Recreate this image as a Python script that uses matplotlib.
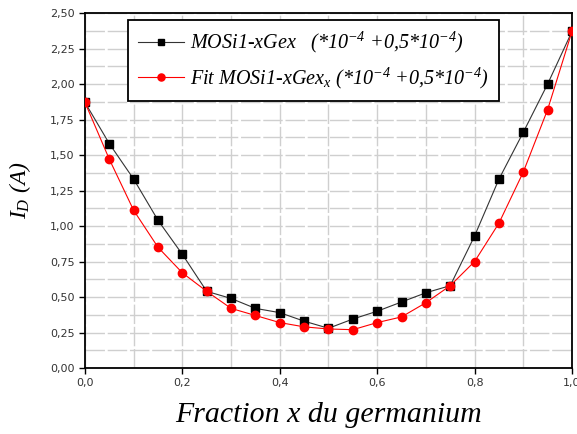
import matplotlib
matplotlib.use("Agg")
import matplotlib.pyplot as plt
import numpy as np
from matplotlib.ticker import MultipleLocator, FuncFormatter

x = [0.0, 0.05, 0.1, 0.15, 0.2, 0.25, 0.3, 0.35, 0.4, 0.45, 0.5,
     0.55, 0.6, 0.65, 0.7, 0.75, 0.8, 0.85, 0.9, 0.95, 1.0]
id_meas = [1.87, 1.58, 1.33, 1.04, 0.80, 0.54, 0.49, 0.42, 0.39, 0.33, 0.28,
           0.345, 0.40, 0.465, 0.53, 0.58, 0.93, 1.33, 1.66, 2.00, 2.37]
id_fit = [1.87, 1.47, 1.11, 0.85, 0.67, 0.54, 0.42, 0.37, 0.32, 0.29, 0.275,
          0.27, 0.32, 0.36, 0.46, 0.58, 0.75, 1.02, 1.38, 1.82, 2.37]

label_meas = r"MOSi1-xGex   (*10$^{-4}$ +0,5*10$^{-4}$)"
label_fit = r"Fit MOSi1-xGex$_x$ (*10$^{-4}$ +0,5*10$^{-4}$)"

plt.rcParams['mathtext.fontset'] = 'custom'
plt.rcParams['mathtext.rm'] = 'Liberation Serif:italic'
plt.rcParams['mathtext.it'] = 'Liberation Serif:italic'

fig = plt.figure(figsize=(5.77, 4.34), dpi=100)
ax = fig.add_axes([0.1473, 0.152, 0.844, 0.818])

ax.plot(x, id_meas, color='#333333', lw=0.8, marker='s', ms=5.8,
        mfc='black', mec='black', label=label_meas, zorder=3)
ax.plot(x, id_fit, color='red', lw=0.8, marker='o', ms=6,
        mfc='red', mec='red', label=label_fit, zorder=4)

ax.set_xlim(0, 1.0)
ax.set_ylim(0, 2.5)
ax.xaxis.set_major_locator(MultipleLocator(0.2))
ax.xaxis.set_minor_locator(MultipleLocator(0.1))
ax.yaxis.set_major_locator(MultipleLocator(0.25))
ax.yaxis.set_minor_locator(MultipleLocator(0.125))
ax.xaxis.set_major_formatter(FuncFormatter(lambda v, p: f"{v:.1f}".replace('.', ',')))
ax.yaxis.set_major_formatter(FuncFormatter(lambda v, p: f"{v:.2f}".replace('.', ',')))
ax.grid(which='both', color='#cfcfcf', lw=1.0, linestyle=(0, (14, 2)))
ax.set_axisbelow(True)
ax.tick_params(which='major', length=4, width=1, labelsize=8, colors='black', labelcolor='#333333', direction='out')
ax.tick_params(which='minor', length=0)
for s in ax.spines.values():
    s.set_linewidth(1.3)
    s.set_color('black')

ax.set_ylabel(r"$I_D$ (A)", fontsize=17, family='Liberation Serif', style='italic', labelpad=12)
ax.set_xlabel("Fraction x du germanium", fontsize=21.5, family='Liberation Serif', style='italic', labelpad=10)

leg = ax.legend(loc='upper left', bbox_to_anchor=(0.088, 0.98), borderaxespad=0, frameon=True, fancybox=False,
                edgecolor='black', framealpha=1, prop={'family': 'Liberation Serif', 'style': 'italic', 'size': 14.5},
                handlelength=2.3, borderpad=0.5, labelspacing=0.5, handletextpad=0.3, markerscale=0.85)
leg.get_frame().set_linewidth(1.3)

fig.savefig("out.png", dpi=100)
